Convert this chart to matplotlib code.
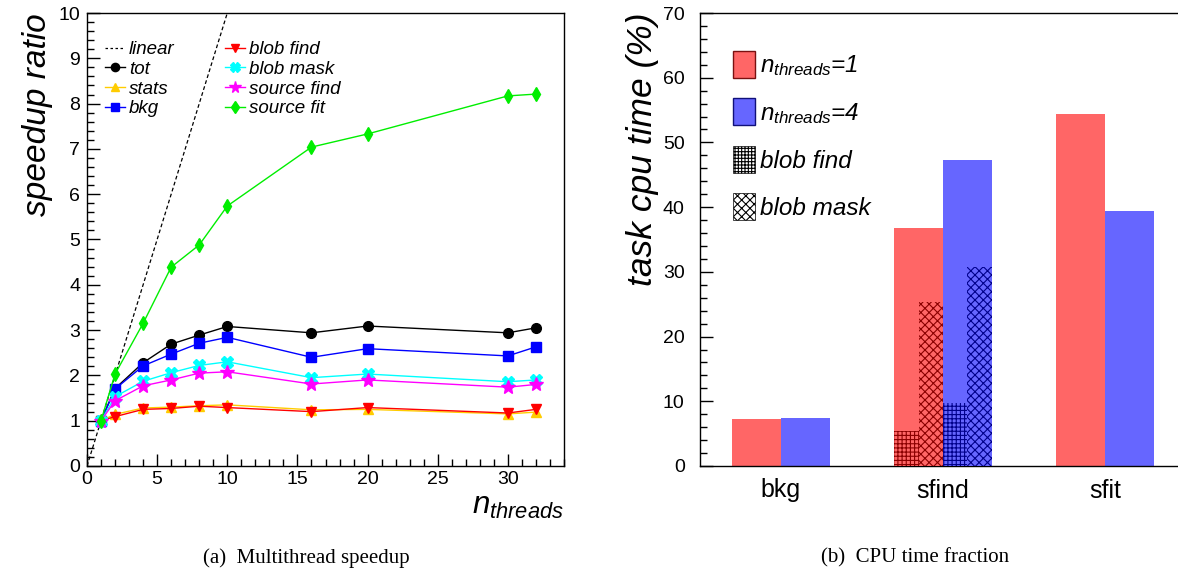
import matplotlib
matplotlib.use("Agg")
import matplotlib.pyplot as plt
import numpy as np
from matplotlib.patches import Patch
from matplotlib.lines import Line2D
from matplotlib.ticker import MultipleLocator, FixedLocator

plt.rcParams['font.family'] = ['Liberation Sans', 'DejaVu Sans']
plt.rcParams['mathtext.fontset'] = 'custom'
plt.rcParams['mathtext.it'] = 'Liberation Sans:italic'
plt.rcParams['mathtext.rm'] = 'Liberation Sans:italic'
plt.rcParams['hatch.linewidth'] = 0.8

# ---------------- data: speedup ----------------
nthreads = [1, 2, 4, 6, 8, 10, 16, 20, 30, 32]
tot = [1.0, 1.71, 2.28, 2.69, 2.89, 3.08, 2.94, 3.09, 2.94, 3.05]
stats = [1.0, 1.14, 1.28, 1.30, 1.33, 1.35, 1.24, 1.25, 1.15, 1.19]
bkg = [1.0, 1.70, 2.21, 2.47, 2.71, 2.84, 2.40, 2.59, 2.43, 2.63]
blob_find = [1.0, 1.09, 1.25, 1.27, 1.32, 1.29, 1.20, 1.29, 1.17, 1.25]
blob_mask = [1.0, 1.53, 1.87, 2.06, 2.22, 2.30, 1.95, 2.03, 1.86, 1.90]
source_find = [1.0, 1.44, 1.77, 1.90, 2.05, 2.08, 1.81, 1.90, 1.74, 1.80]
source_fit = [1.0, 2.03, 3.15, 4.39, 4.88, 5.74, 7.04, 7.33, 8.17, 8.21]
linear_x = [0, 10]
x_ticks = [0, 5, 10, 15, 20, 25, 30]

# ---------------- data: cpu time fraction ----------------
tasks = ['bkg', 'sfind', 'sfit']
cpu_nt1 = [7.3, 36.7, 54.4]
cpu_nt4 = [7.45, 47.3, 39.4]
blobfind_nt1 = [0.0, 5.4, 0.0]
blobfind_nt4 = [0.0, 9.7, 0.0]
blobmask_nt1 = [0.0, 25.3, 0.0]
blobmask_nt4 = [0.0, 30.8, 0.0]

fig = plt.figure(figsize=(11.78, 5.75), dpi=100)

# ================= left panel =================
ax1 = fig.add_axes([87/1178, 109/575, 477/1178, 453/575])
ax1.plot(linear_x, linear_x, ls=(0, (3, 2)), color='black', lw=0.9, zorder=2)
series = [
    (tot, 'black', 'o', 7, 'tot'),
    (stats, '#ffcc00', '^', 7, 'stats'),
    (bkg, '#0000ff', 's', 7, 'bkg'),
    (blob_find, '#ff0000', 'v', 7, 'blob find'),
    (blob_mask, '#00ffff', 'X', 8, 'blob mask'),
    (source_find, '#ff00ff', '*', 10, 'source find'),
    (source_fit, '#00ee00', 'd', 7, 'source fit'),
]
handles = {}
for vals, c, m, ms, lab in series:
    h, = ax1.plot(nthreads, vals, color=c, marker=m, ms=ms, lw=1.0, mec=c, mfc=c, label=lab, zorder=3)
    handles[lab] = h
lin = Line2D([], [], ls=(0, (2, 2)), color='black', lw=0.9)
order = [lin, handles['tot'], handles['stats'], handles['bkg'],
         handles['blob find'], handles['blob mask'], handles['source find'], handles['source fit']]
labels = ['linear', 'tot', 'stats', 'bkg', 'blob find', 'blob mask', 'source find', 'source fit']
ax1.legend(order, labels, ncol=2, loc='upper left', bbox_to_anchor=(0.038, 0.938),
           frameon=False, prop={'style': 'italic', 'size': 13.5},
           borderpad=0, borderaxespad=0,
           labelspacing=0.14, handlelength=1.07, handletextpad=0.2, columnspacing=2.7,
           markerscale=0.85)
ax1.set_xlim(0, 34)
ax1.set_ylim(0, 10)
ax1.xaxis.set_major_locator(FixedLocator(x_ticks))
ax1.xaxis.set_minor_locator(MultipleLocator(1))
ax1.yaxis.set_major_locator(MultipleLocator(1))
ax1.yaxis.set_minor_locator(MultipleLocator(0.2))
ax1.tick_params(which='both', direction='in', top=False, right=False, labelsize=14)
ax1.tick_params(axis='y', pad=5)
ax1.tick_params(which='major', length=9, width=1)
ax1.tick_params(which='minor', length=5, width=1)
ax1.set_ylabel('speedup ratio', fontsize=24, style='italic', loc='top', labelpad=4)
ax1.set_xlabel(r'$n_{threads}$', fontsize=22.5, loc='right', labelpad=2)
for s in ax1.spines.values():
    s.set_linewidth(1.0)

# ================= right panel =================
ax2 = fig.add_axes([700/1178, 109/575, 486/1178, 453/575])
red = '#ff6666'
blue = '#6666ff'
xi = np.arange(len(tasks))
ax2.bar(xi + 0.2, cpu_nt1, width=0.3, align='edge', color=red, lw=0, zorder=2)
ax2.bar(xi + 0.5, cpu_nt4, width=0.3, align='edge', color=blue, lw=0, zorder=2)
ax2.bar(xi + 0.2, blobfind_nt1, width=0.15, align='edge', facecolor=red, edgecolor='#8b0000',
        hatch='++++', lw=0, zorder=3)
ax2.bar(xi + 0.35, blobmask_nt1, width=0.15, align='edge', facecolor=red, edgecolor='#8b0000',
        hatch='xxxx', lw=0, zorder=3)
ax2.bar(xi + 0.5, blobfind_nt4, width=0.15, align='edge', facecolor=blue, edgecolor='#00008b',
        hatch='++++', lw=0, zorder=3)
ax2.bar(xi + 0.65, blobmask_nt4, width=0.15, align='edge', facecolor=blue, edgecolor='#00008b',
        hatch='xxxx', lw=0, zorder=3)
ax2.set_xlim(0, 3)
ax2.set_ylim(0, 70)
ax2.set_xticks(xi + 0.5)
ax2.set_xticklabels(tasks)
ax2.yaxis.set_major_locator(MultipleLocator(10))
ax2.yaxis.set_minor_locator(MultipleLocator(2))
ax2.tick_params(axis='x', length=0, labelsize=18, pad=9)
ax2.tick_params(axis='y', which='both', direction='in', right=False, labelsize=14, pad=11)
ax2.tick_params(axis='y', which='major', length=9, width=1)
ax2.tick_params(axis='y', which='minor', length=5, width=1)
ax2.set_ylabel('task cpu time (%)', fontsize=25.5, style='italic', loc='top', labelpad=3)
leg_handles = [
    Patch(facecolor=red, edgecolor='#7a1010', lw=1),
    Patch(facecolor=blue, edgecolor='#10107a', lw=1),
    Patch(facecolor='white', edgecolor='black', hatch='+++++', lw=0.5),
    Patch(facecolor='white', edgecolor='black', hatch='xxxx', lw=0.5),
]
leg_labels = [r'$n_{threads}$=1', r'$n_{threads}$=4', 'blob find', 'blob mask']
ax2.legend(leg_handles, leg_labels, loc='upper left', bbox_to_anchor=(0.068, 0.917),
           frameon=False, prop={'style': 'italic', 'size': 17.5},
           borderpad=0, borderaxespad=0,
           handlelength=0.9, handleheight=1.35, handletextpad=0.2, labelspacing=0.82)
for s in ax2.spines.values():
    s.set_linewidth(1.0)

# captions
fig.text(306/1178, 1 - 558/575, '(a)  Multithread speedup', ha='center', va='center',
         fontsize=15, family='Liberation Serif')
fig.text(915/1178, 1 - 558/575, '(b)  CPU time fraction', ha='center', va='center',
         fontsize=15, family='Liberation Serif')

fig.savefig('out.png', dpi=100)
